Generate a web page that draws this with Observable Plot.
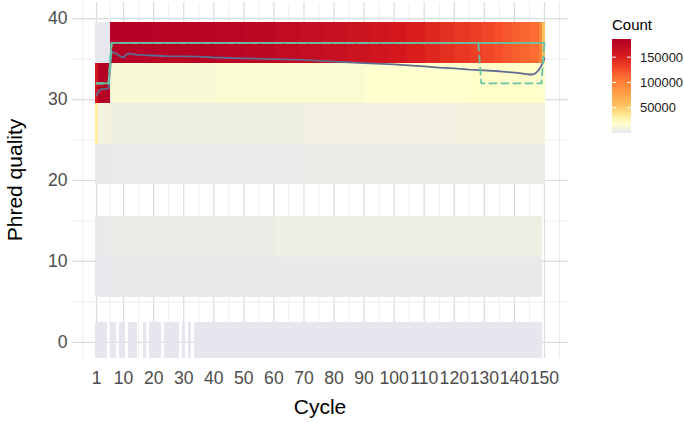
<!DOCTYPE html>
<html><head><meta charset="utf-8">
<script src="https://cdn.jsdelivr.net/npm/d3@7"></script>
<script src="https://cdn.jsdelivr.net/npm/@observablehq/plot@0.6"></script>
<style>
body{margin:0;background:#fff;font-family:"Liberation Sans",Arial,Helvetica,sans-serif;}
#wrap{position:relative;width:684px;height:424px;overflow:hidden;}
#wrap svg{position:absolute;left:0;top:0;}
</style></head><body><div id="wrap"></div>
<script>
// ---- data ----
const xTicks = [1,10,20,30,40,50,60,70,80,90,100,110,120,130,140,150];
const xMinor = [-3.5,5.5,15,25,35,45,55,65,75,85,95,105,115,125,135,145,155];
const yTicks = [0,10,20,30,40];
const yMinor = [5,15,25,35];

// quality bins (tile centres) and runs of cycles [from, to, count]
const bandQualities = [37,32,27,22,13,8,0];
const runsQ37 = [[1,5,600],[6,20,181000],[21,40,180000],[41,50,178000],[51,60,175000],[61,68,172000],[69,76,169000],[77,84,165000],[85,92,161000],[93,98,157000],[99,104,153000],[105,110,149000],[111,115,145000],[116,120,141000],[121,125,137000],[126,129,133000],[130,133,129000],[134,136,125000],[137,139,121000],[140,142,117000],[143,145,114000],[146,148,111000],[149,149,96000],[150,150,57000]];
const runsQ32 = [[1,1,156000],[2,5,183000],[6,40,14000],[41,90,15500],[91,125,17500],[126,148,19500],[149,150,18000]];
const runsQ27 = [[1,1,33000],[2,5,9000],[6,70,6500],[71,120,7500],[121,150,9000]];
const runsQ22 = [[1,5,1800],[6,70,3200],[71,150,4200]];
const runsQ13 = [[1,5,2500],[6,60,4500],[61,149,6000]];
const runsQ8  = [[1,5,800],[6,70,1800],[71,149,2600]];
const runsQ0  = [[1,4,200],[6,7,200],[9,10,200],[12,14,200],[17,17,200],[19,22,200],[24,28,200],[30,30,200],[32,32,200],[34,149,200]];
const bandRuns = [runsQ37,runsQ32,runsQ27,runsQ22,runsQ13,runsQ8,runsQ0];

const meanCycle = [1,2,3,4,5,6,7,8,9,10,11,12,14,17,20,25,30,35,40,50,60,70,80,90,100,110,115,120,125,130,135,138,141,144,145,146,147,148,149,150];
const meanValue = [30.5,31.2,31.3,31.3,31.4,35.9,35.8,35.6,35.3,35.2,35.6,35.7,35.55,35.5,35.45,35.35,35.35,35.3,35.2,35.1,35.0,34.9,34.7,34.5,34.35,34.1,33.95,33.85,33.7,33.6,33.5,33.4,33.3,33.15,33.1,33.1,33.25,33.6,34.2,35.1];
const medianCycle = [1,5,6,150];
const medianValue = [32,32,37,37];
const q25Cycle = [1,5,6,128,129,149,150];
const q25Value = [32,32,37,37,32,32,37];
const q75Cycle = [1,5,6,150];
const q75Value = [32,32,37,37];

const countMax = 186000;
const colorStops = [0,0.1,0.18,0.29,0.42,0.56,0.68,0.81,1];
const colorRange = ["#e6e6ee","#ffffcc","#ffeda0","#fec460","#fe9f45","#fd7a35","#f54a2a","#d7191c","#b10026"];
const legendBreaks = [50000,100000,150000];

// ---- build tables ----
const tiles = [];
bandQualities.forEach((q,i) => bandRuns[i].forEach(([from,to,count]) => tiles.push({q,from,to,count})));
const pts = (xs,ys) => xs.map((c,i) => ({cycle:c, v:ys[i]}));
const meanPts = pts(meanCycle, meanValue);
const medPts = pts(medianCycle, medianValue);
const q25Pts = pts(q25Cycle, q25Value);
const q75Pts = pts(q75Cycle, q75Value);

const teal = "#66c2a5";
const plot = Plot.plot({
  width: 684, height: 424,
  marginLeft: 72, marginRight: 116, marginTop: 2, marginBottom: 66,
  style: {fontFamily: "'Liberation Sans', Arial, sans-serif", fontSize: "17.6px", background: "transparent", overflow: "visible"},
  x: {domain: [-7, 158], axis: null},
  y: {domain: [-2, 42], axis: null},
  color: {type: "linear", domain: colorStops.map(t => t*countMax), range: colorRange, interpolate: "lab"},
  marks: [
    Plot.ruleX(xMinor, {stroke: "#e8e8e8", strokeWidth: 0.8}),
    Plot.ruleY(yMinor, {stroke: "#e8e8e8", strokeWidth: 0.8}),
    Plot.ruleX(xTicks, {stroke: "#dcdcdc", strokeWidth: 1.2}),
    Plot.ruleY(yTicks, {stroke: "#dcdcdc", strokeWidth: 1.2}),
    Plot.rect(tiles, {x1: d => d.from - 0.5, x2: d => d.to + 0.5, y1: d => d.q - 2.5, y2: d => d.q + 2.5, fill: "count", clip: true, shapeRendering: "crispEdges"}),
    Plot.line(meanPts, {x: "cycle", y: "v", stroke: "#5f6c90", strokeWidth: 1.8}),
    Plot.line(q25Pts, {x: "cycle", y: "v", stroke: teal, strokeWidth: 1.8, strokeDasharray: "7,5"}),
    Plot.line(q75Pts, {x: "cycle", y: "v", stroke: teal, strokeWidth: 1.8, strokeDasharray: "7,5"}),
    Plot.line(medPts, {x: "cycle", y: "v", stroke: teal, strokeWidth: 1.8}),
    Plot.axisX(xTicks, {tickSize: 0, tickPadding: 13, fontSize: 17.6, fill: "#4d4d4d", label: null}),
    Plot.axisY(yTicks, {tickSize: 0, tickPadding: 5, fontSize: 17.6, fill: "#4d4d4d", label: null})
  ]
});
const wrap = document.getElementById("wrap");
wrap.appendChild(plot);

// ---- overlay: axis titles and colour legend ----
const colorScale = plot.scale("color");
const ov = d3.select(wrap).append("svg").attr("width",684).attr("height",424)
  .style("font-family","'Liberation Sans', Arial, sans-serif");
ov.append("text").attr("x",320).attr("y",414).attr("text-anchor","middle")
  .attr("font-size",21).attr("fill","#000").text("Cycle");
ov.append("text").attr("transform","translate(22,180) rotate(-90)").attr("text-anchor","middle")
  .attr("font-size",21).attr("fill","#000").text("Phred quality");

const barX = 612, barW = 19, barTop = 39, barBot = 133;
ov.append("text").attr("x",barX).attr("y",30).attr("font-size",15).attr("fill","#000").text("Count");
const grad = ov.append("defs").append("linearGradient").attr("id","cg")
  .attr("x1",0).attr("x2",0).attr("y1",1).attr("y2",0);
d3.range(0,1.0001,0.02).forEach(t => grad.append("stop").attr("offset",t).attr("stop-color",colorScale.apply(t*countMax)));
ov.append("rect").attr("x",barX).attr("y",barTop).attr("width",barW).attr("height",barBot-barTop).attr("fill","url(#cg)");
const ly = d3.scaleLinear().domain([0,countMax]).range([barBot,barTop]);
legendBreaks.forEach(b => {
  const y = ly(b);
  ov.append("line").attr("x1",barX).attr("x2",barX+4).attr("y1",y).attr("y2",y).attr("stroke","#fff").attr("stroke-width",1);
  ov.append("line").attr("x1",barX+barW-4).attr("x2",barX+barW).attr("y1",y).attr("y2",y).attr("stroke","#fff").attr("stroke-width",1);
  ov.append("text").attr("x",640).attr("y",y).attr("dy","0.36em").attr("font-size",12.9).attr("fill","#1a1a1a").text(String(b));
});
</script></body></html>
